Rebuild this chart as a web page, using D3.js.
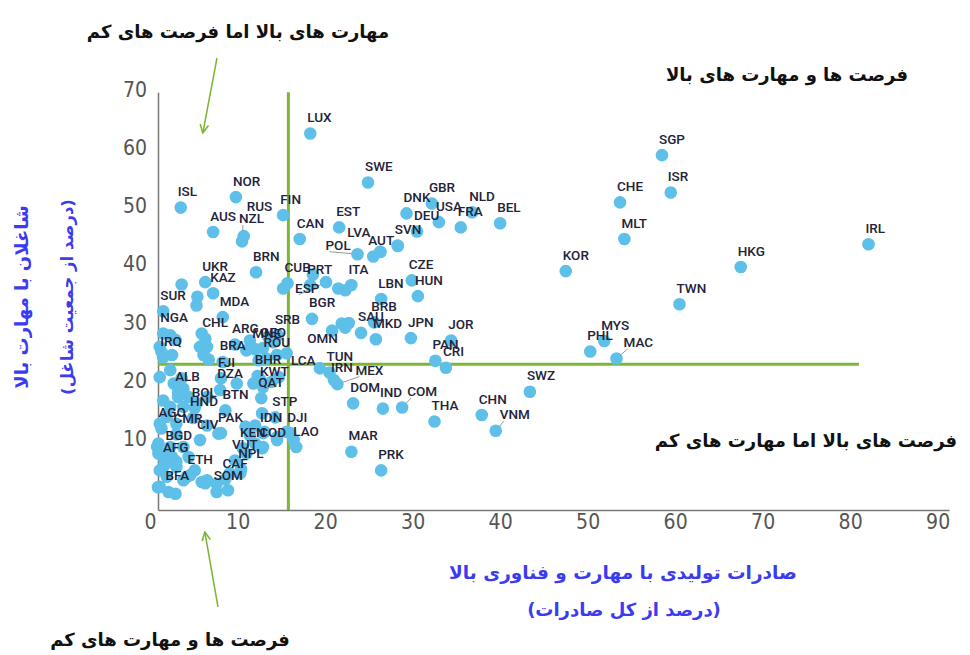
<!DOCTYPE html>
<html lang="fa">
<head>
<meta charset="utf-8">
<title>Skills and opportunities</title>
<script src="https://d3js.org/d3.v7.min.js"></script>
<style>
  body { margin: 0; background: #fff; }
  .tick text { font-family: "Liberation Sans Narrow", "DejaVu Sans Condensed", sans-serif; font-size: 21px; fill: #555; }
  .fa { font-family: "DejaVu Sans", sans-serif; font-weight: bold; direction: rtl; }
  .code { font-family: Roboto, sans-serif; font-size: 13.5px; font-weight: 500; fill: #23233a; }
</style>
</head>
<body>
<div id="chart"></div>
<script>
// Labelled countries: high-tech manufactured exports (% of exports), high-skilled workers (% of employment)
const codes = ["LUX","SWE","SGP","ISR","CHE","MLT","IRL","HKG","KOR","TWN","MYS","PHL","MAC",
  "SWZ","CHN","VNM","THA","COM","IND","DOM","MAR","PRK","LCA","TUN","IRN","MEX","OMN","SAU","BRB",
  "MKD","JPN","JOR","PAN","CRI","SRB","BGR","LBN","CZE","HUN","ITA","PRT","CUB","ESP","POL","LVA",
  "AUT","SVN","DEU","USA","GBR","DNK","NLD","FRA","BEL","EST","CAN","FIN","NOR","ISL","AUS","RUS",
  "NZL","BRN","UKR","KAZ","SUR","MDA","NGA","CHL","ARG","MNE","GEO","ROU","BRA","IRQ","BHR","FJI",
  "KWT","QAT","ALB","DZA","BOL","BTN","HND","STP","AGO","CMR","CIV","PAK","IDN","DJI","BGD","KEN",
  "COD","LAO","AFG","VUT","NPL","ETH","CAF","BFA","SOM"];
const techExp = [18.3,24.9,58.5,59.5,53.7,54.2,82.1,67.5,47.5,60.5,51.9,50.3,53.3,
  43.4,37.9,39.5,32.5,28.8,26.6,23.2,23.0,26.4,19.4,20.5,21.0,21.4,20.8,24.1,25.6,
  25.8,29.8,34.4,32.6,33.8,14.6,18.5,26.4,29.9,30.6,23.0,18.3,15.7,20.1,23.7,25.5,
  26.3,28.3,30.5,33.0,32.2,29.3,36.8,35.5,40.0,21.6,17.1,15.2,9.8,3.5,7.2,10.7,
  10.5,12.1,6.3,7.2,1.5,8.3,1.5,6.3,9.7,12.0,12.9,13.3,8.3,1.5,12.3,8.1,
  12.9,12.7,3.2,8.0,5.1,8.6,4.9,14.3,1.3,3.0,5.7,8.1,12.9,16.0,2.1,10.6,
  12.8,16.7,1.8,9.7,10.4,4.6,8.6,2.1,7.6];
const skilled = [62.4,54.0,58.7,52.3,50.6,44.3,43.4,39.5,38.8,33.1,26.8,25.0,23.8,
  18.1,14.1,11.4,13.0,15.4,15.2,16.1,7.8,4.6,22.1,21.4,20.1,19.4,28.6,28.2,30.0,
  27.1,27.3,26.9,23.4,22.2,27.8,30.6,34.0,37.2,34.5,36.4,36.4,36.7,36.9,41.7,41.3,
  42.1,43.2,45.6,47.2,50.4,48.7,48.9,46.3,47.0,46.3,44.3,48.4,51.5,49.7,45.5,44.8,
  43.9,38.6,36.9,35.0,31.9,30.9,28.1,27.2,26.2,25.4,25.6,23.8,23.2,24.0,20.8,20.4,
  18.9,17.0,18.0,18.4,15.3,14.9,13.6,13.7,11.8,10.8,9.8,11.0,11.0,11.0,7.9,8.4,
  8.4,8.6,5.8,6.3,4.8,3.8,3.1,0.9,0.9];

// Unlabelled countries
const otherExp = [3.6,5.4,15.2,21.5,22.3,5.3,2.3,2.9,5.9,1.1,5.7,6.5,1.3,2.5,6.1,6.7,11.0,11.4,
  13.5,14.1,12.4,14.5,15.6,21.9,22.3,22.7,1.1,2.3,2.7,3.6,3.8,3.2,4.4,1.5,2.3,3.8,5.3,6.5,9.9,
  11.8,13.9,14.7,1.9,1.1,3.0,6.5,7.8,10.9,12.0,11.4,13.1,14.5,15.6,16.4,0.95,2.3,3.8,0.95,2.5,
  4.4,11.0,12.0,1.5,3.0,5.1,1.9,3.8,6.5,9.1,5.9,2.9,1.1,12.6,0.8,1.5,3.0,1.1,0.9,4.2,7.6,8.9,
  6.3,10.3,12.9,14.5,12.8,26.3,28.3,18.6];
const otherSkill = [36.5,34.4,35.8,35.8,35.5,32.9,27.8,27.0,28.1,25.8,25.8,25.8,24.9,24.4,24.4,
  23.6,25.2,26.9,27.5,26.6,23.5,24.4,24.7,29.8,29.1,29.9,20.6,21.8,19.5,20.4,18.6,17.2,17.2,16.6,
  15.5,15.5,16.1,17.2,19.5,19.5,19.8,20.6,13.8,12.6,12.6,12.3,10.9,12.1,12.3,10.6,11.2,10.3,11.2,
  9.8,9.2,8.6,8.6,7.5,6.9,6.9,7.5,9.2,5.2,5.2,4.6,3.5,2.9,2.9,4.1,2.6,0.6,1.8,20.1,8.6,6.9,6.1,
  4.6,1.7,3.5,2.3,1.2,2.4,4.1,8.6,9.8,14.4,42.1,43.1,38.2];

const xTicks = [0, 10, 20, 30, 40, 50, 60, 70, 80, 90];
const yTicks = [10, 20, 30, 40, 50, 60, 70];

// Quadrant dividers
const techCut = 15.8;
const skillCut = 22.8;
const skillCutEnd = 81;

// Repelled labels (pixel nudges) and which ones get a leader line
const labelNudge = { RUS: [6, -14], NZL: [0, -7], MAC: [10, 0], VNM: [7, 0], COM: [8, 0],
  POL: [-29, 7], LVA: [-23, -8], AUT: [-9, 5], ESP: [-28, 22], LCA: [-26, 8], OMN: [-22, 24],
  IRN: [0, 3], MEX: [21, 2] };
const leaders = ["NZL", "POL", "COM", "VNM", "MAC", "ESP", "MEX"];

const width = 970, height = 655;
const green = "#7cb733";
const blue = "#3b3bf0";
const dotColor = "#5ec0e8";

const svg = d3.select("#chart").append("svg")
  .attr("width", width).attr("height", height);

const x = d3.scaleLinear().domain([0.9, 91.3]).range([158, 949]);
const y = d3.scaleLinear().domain([-2.2, 69.5]).range([510, 92.2]);

// Axes (domain lines form the frame)
const xAxis = svg.append("g")
  .attr("transform", `translate(0,${y(-2.2)})`)
  .call(d3.axisBottom(x).tickValues(xTicks).tickSize(0).tickSizeOuter(0).tickPadding(4));
const yAxis = svg.append("g")
  .attr("transform", `translate(${x(0.9)},0)`)
  .call(d3.axisLeft(y).tickValues(yTicks).tickSize(0).tickSizeOuter(0).tickPadding(11));
[xAxis, yAxis].forEach(a => a.select(".domain").attr("stroke", "#777").attr("stroke-width", 1.5));

// Green quadrant lines
svg.append("line")
  .attr("x1", x(techCut)).attr("x2", x(techCut))
  .attr("y1", y(69.5)).attr("y2", y(-2.2))
  .attr("stroke", green).attr("stroke-width", 3);
svg.append("line")
  .attr("x1", x(0.9)).attr("x2", x(skillCutEnd))
  .attr("y1", y(skillCut)).attr("y2", y(skillCut))
  .attr("stroke", green).attr("stroke-width", 3);

const labelled = codes.map((c, i) => ({ code: c, tx: techExp[i], sk: skilled[i] }));
const others = otherExp.map((v, i) => ({ tx: v, sk: otherSkill[i] }));

const labelPos = d => {
  const n = labelNudge[d.code] || [0, 0];
  return [x(d.tx) - 3 + n[0], y(d.sk) - 11.5 + n[1]];
};

// Leader lines
svg.selectAll("line.leader")
  .data(labelled.filter(d => leaders.includes(d.code)))
  .enter().append("line")
  .attr("class", "leader")
  .attr("x1", d => x(d.tx)).attr("y1", d => y(d.sk))
  .attr("x2", d => labelPos(d)[0] + 4).attr("y2", d => labelPos(d)[1] + 2)
  .attr("stroke", "#999").attr("stroke-width", 1);

// Dots
svg.selectAll("circle.other")
  .data(others)
  .enter().append("circle")
  .attr("class", "other")
  .attr("cx", d => x(d.tx)).attr("cy", d => y(d.sk))
  .attr("r", 6.3).attr("fill", dotColor);
svg.selectAll("circle.country")
  .data(labelled)
  .enter().append("circle")
  .attr("class", "country")
  .attr("cx", d => x(d.tx)).attr("cy", d => y(d.sk))
  .attr("r", 6.3).attr("fill", dotColor);

// Country codes
svg.selectAll("text.code")
  .data(labelled)
  .enter().append("text")
  .attr("class", "code")
  .attr("x", d => labelPos(d)[0])
  .attr("y", d => labelPos(d)[1])
  .text(d => d.code);

// Quadrant notes
const notes = [
  { t: "مهارت های بالا اما فرصت های کم", x: 238, y: 38 },
  { t: "فرصت ها و مهارت های بالا", x: 787, y: 81 },
  { t: "فرصت های بالا اما مهارت های کم", x: 806, y: 447 },
  { t: "فرصت ها و مهارت های کم", x: 170, y: 646 }
];
svg.selectAll("text.note")
  .data(notes)
  .enter().append("text")
  .attr("class", "fa note")
  .attr("x", d => d.x).attr("y", d => d.y)
  .attr("text-anchor", "middle")
  .style("font-size", "18px")
  .attr("fill", "#111")
  .text(d => d.t);

// Arrows
svg.append("defs").append("marker")
  .attr("id", "arrow")
  .attr("viewBox", "0 0 10 10")
  .attr("refX", 8).attr("refY", 5)
  .attr("markerWidth", 7).attr("markerHeight", 7)
  .attr("orient", "auto")
  .append("path")
  .attr("d", "M 1 1 L 9 5 L 1 9")
  .attr("fill", "none")
  .attr("stroke", green)
  .attr("stroke-width", 1.5);
svg.append("line")
  .attr("x1", 217).attr("y1", 58).attr("x2", 203).attr("y2", 132)
  .attr("stroke", green).attr("stroke-width", 1.5).attr("marker-end", "url(#arrow)");
svg.append("line")
  .attr("x1", 218).attr("y1", 607).attr("x2", 205).attr("y2", 533)
  .attr("stroke", green).attr("stroke-width", 1.5).attr("marker-end", "url(#arrow)");

// Axis titles
svg.append("text").attr("class", "fa")
  .attr("x", 623).attr("y", 579).attr("text-anchor", "middle")
  .style("font-size", "18.5px").attr("fill", blue)
  .text("صادرات تولیدی با مهارت و فناوری بالا");
svg.append("text").attr("class", "fa")
  .attr("x", 624).attr("y", 616).attr("text-anchor", "middle")
  .style("font-size", "18px").attr("fill", blue)
  .text("(درصد از کل صادرات)");
svg.append("text").attr("class", "fa")
  .attr("transform", "translate(28,297) rotate(-90)").attr("text-anchor", "middle")
  .style("font-size", "18px").attr("fill", blue)
  .text("شاغلان با مهارت بالا");
svg.append("text").attr("class", "fa")
  .attr("transform", "translate(73,297) rotate(-90)").attr("text-anchor", "middle")
  .style("font-size", "16.5px").attr("fill", blue)
  .text("(درصد از جمعیت شاغل)");
</script>
</body>
</html>
